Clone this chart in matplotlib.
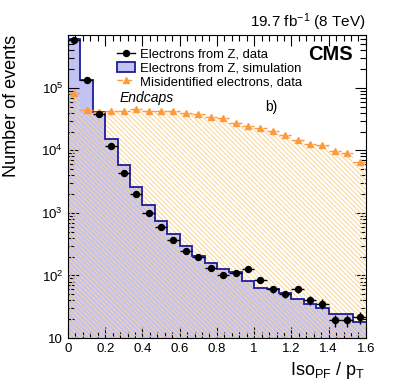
import matplotlib
matplotlib.use('Agg')
import matplotlib.pyplot as plt
import numpy as np
from matplotlib.lines import Line2D
from matplotlib.patches import Patch
from matplotlib.ticker import MultipleLocator, LogLocator, FuncFormatter, NullFormatter

plt.rcParams['font.family'] = ['Liberation Sans', 'DejaVu Sans']
plt.rcParams['mathtext.fontset'] = 'custom'
plt.rcParams['mathtext.rm'] = 'Liberation Sans'
plt.rcParams['mathtext.it'] = 'Liberation Sans:italic'
plt.rcParams['mathtext.bf'] = 'Liberation Sans:bold'
plt.rcParams['hatch.linewidth'] = 0.75

# 24 bins of Iso_PF / pT from 0 to 1.6
edges = np.linspace(0, 1.6, 25)
z_data = [5.9e5, 1.35e5, 3.85e4, 1.17e4, 4.4e3, 2.0e3, 985, 600, 368, 242, 199, 133,
          102, 111, 126, 86, 60, 50, 60, 40, 35.5, 19.2, 19.2, 21.7]
z_sim = [6.0e5, 1.35e5, 4.1e4, 1.5e4, 5.75e3, 2.6e3, 1.35e3, 730, 459, 298, 206, 161,
         126, 115, 82, 64, 60, 52, 41.6, 35.5, 30.5, 24.5, 24.5, 18]
misid = [8.4e4, 4.45e4, 4.13e4, 4.24e4, 4.34e4, 4.57e4, 4.34e4, 4.3e4, 4.24e4, 4.0e4,
         3.8e4, 3.44e4, 3.24e4, 2.79e4, 2.49e4, 2.29e4, 2.05e4, 1.79e4, 1.47e4, 1.26e4,
         1.22e4, 9.9e3, 9.0e3, 6.5e3]

centers = 0.5 * (edges[:-1] + edges[1:])
halfw = 0.5 * np.diff(edges)

blue_fill = '#c2c2f3'
blue_line = '#1c1c9c'
orange = '#ff9a3c'
hatch_col = '#f9d69a'

fig = plt.figure(figsize=(4.07, 3.91), dpi=100)
ax = fig.add_axes([0.167, 0.1355, 0.732, 0.775])

ax.stairs(z_sim, edges, baseline=1, fill=True, facecolor=blue_fill, edgecolor='none', zorder=1)
ax.stairs(misid, edges, baseline=1, fill=True, facecolor='none', edgecolor=hatch_col,
          hatch='\\' * 7, linewidth=0, zorder=2)
ax.stairs(z_sim, edges, baseline=None, color=blue_line, linewidth=1.3, zorder=3)

eb = ax.errorbar(centers, misid, xerr=halfw, fmt='^', color=orange, ms=4.5,
                 elinewidth=1.0, capsize=0, zorder=4)
eb[2][0].set_linestyle((0, (4, 2.5)))

ax.errorbar(centers, z_data, xerr=halfw, yerr=np.sqrt(z_data), fmt='o', color='black',
            ms=4.3, elinewidth=1.0, capsize=0, zorder=5)

ax.set_yscale('log')
ax.set_xlim(0, 1.6)
ax.set_ylim(10, 7e5)

ax.xaxis.set_major_locator(MultipleLocator(0.2))
ax.xaxis.set_minor_locator(MultipleLocator(0.04))
ax.xaxis.set_major_formatter(FuncFormatter(lambda v, p: '%g' % round(v, 3)))
ax.yaxis.set_major_locator(LogLocator(base=10, numticks=10))
ax.yaxis.set_minor_locator(LogLocator(base=10, subs=np.arange(2, 10), numticks=20))
ax.yaxis.set_minor_formatter(NullFormatter())
ax.yaxis.set_major_formatter(FuncFormatter(
    lambda v, p: '10' if abs(v - 10) < 1e-6 else r'$10^{%d}$' % round(np.log10(v))))
ax.tick_params(which='both', direction='in', top=True, right=True, labelsize=9.5, pad=3.5,
               width=0.8)
ax.tick_params(which='major', length=8)
ax.tick_params(which='minor', length=4)
for s in ax.spines.values():
    s.set_linewidth(0.8)

handles = [
    Line2D([], [], color='black', marker='o', ms=4.3, lw=1.0),
    Patch(facecolor=blue_fill, edgecolor=blue_line, linewidth=1.3),
    Line2D([], [], color=orange, marker='^', ms=4.5, lw=1.0, ls=(0, (4, 2.5))),
]
labels = ['Electrons from Z, data', 'Electrons from Z, simulation',
          'Misidentified electrons, data']
ax.legend(handles, labels, loc='upper left', bbox_to_anchor=(0.164, 0.957), frameon=False,
          fontsize=9.4, borderpad=0, borderaxespad=0, labelspacing=0.05,
          handlelength=1.4, handletextpad=0.4, handleheight=0.9)

ax.text(0.956, 0.934, 'CMS', transform=ax.transAxes, ha='right', va='center',
        fontsize=14.5, fontweight='bold')
ax.text(0.1745, 0.792, 'Endcaps', transform=ax.transAxes, ha='left', va='center',
        fontsize=10, style='italic')
ax.text(0.661, 0.762, 'b)', transform=ax.transAxes, ha='left', va='center', fontsize=10)

fig.text(0.897, 1 - 22 / 391, r'19.7 fb$^{-1}$ (8 TeV)', ha='right', va='center', fontsize=11)
fig.text(0.897, 1 - 375 / 391, r'Iso$_{\rm PF}$ / p$_{\rm T}$', ha='right', va='baseline',
         fontsize=13)
fig.text(12 / 407, 0.9105, 'Number of events', rotation=90, ha='center', va='top', fontsize=13)

fig.savefig('out.png', dpi=100)
